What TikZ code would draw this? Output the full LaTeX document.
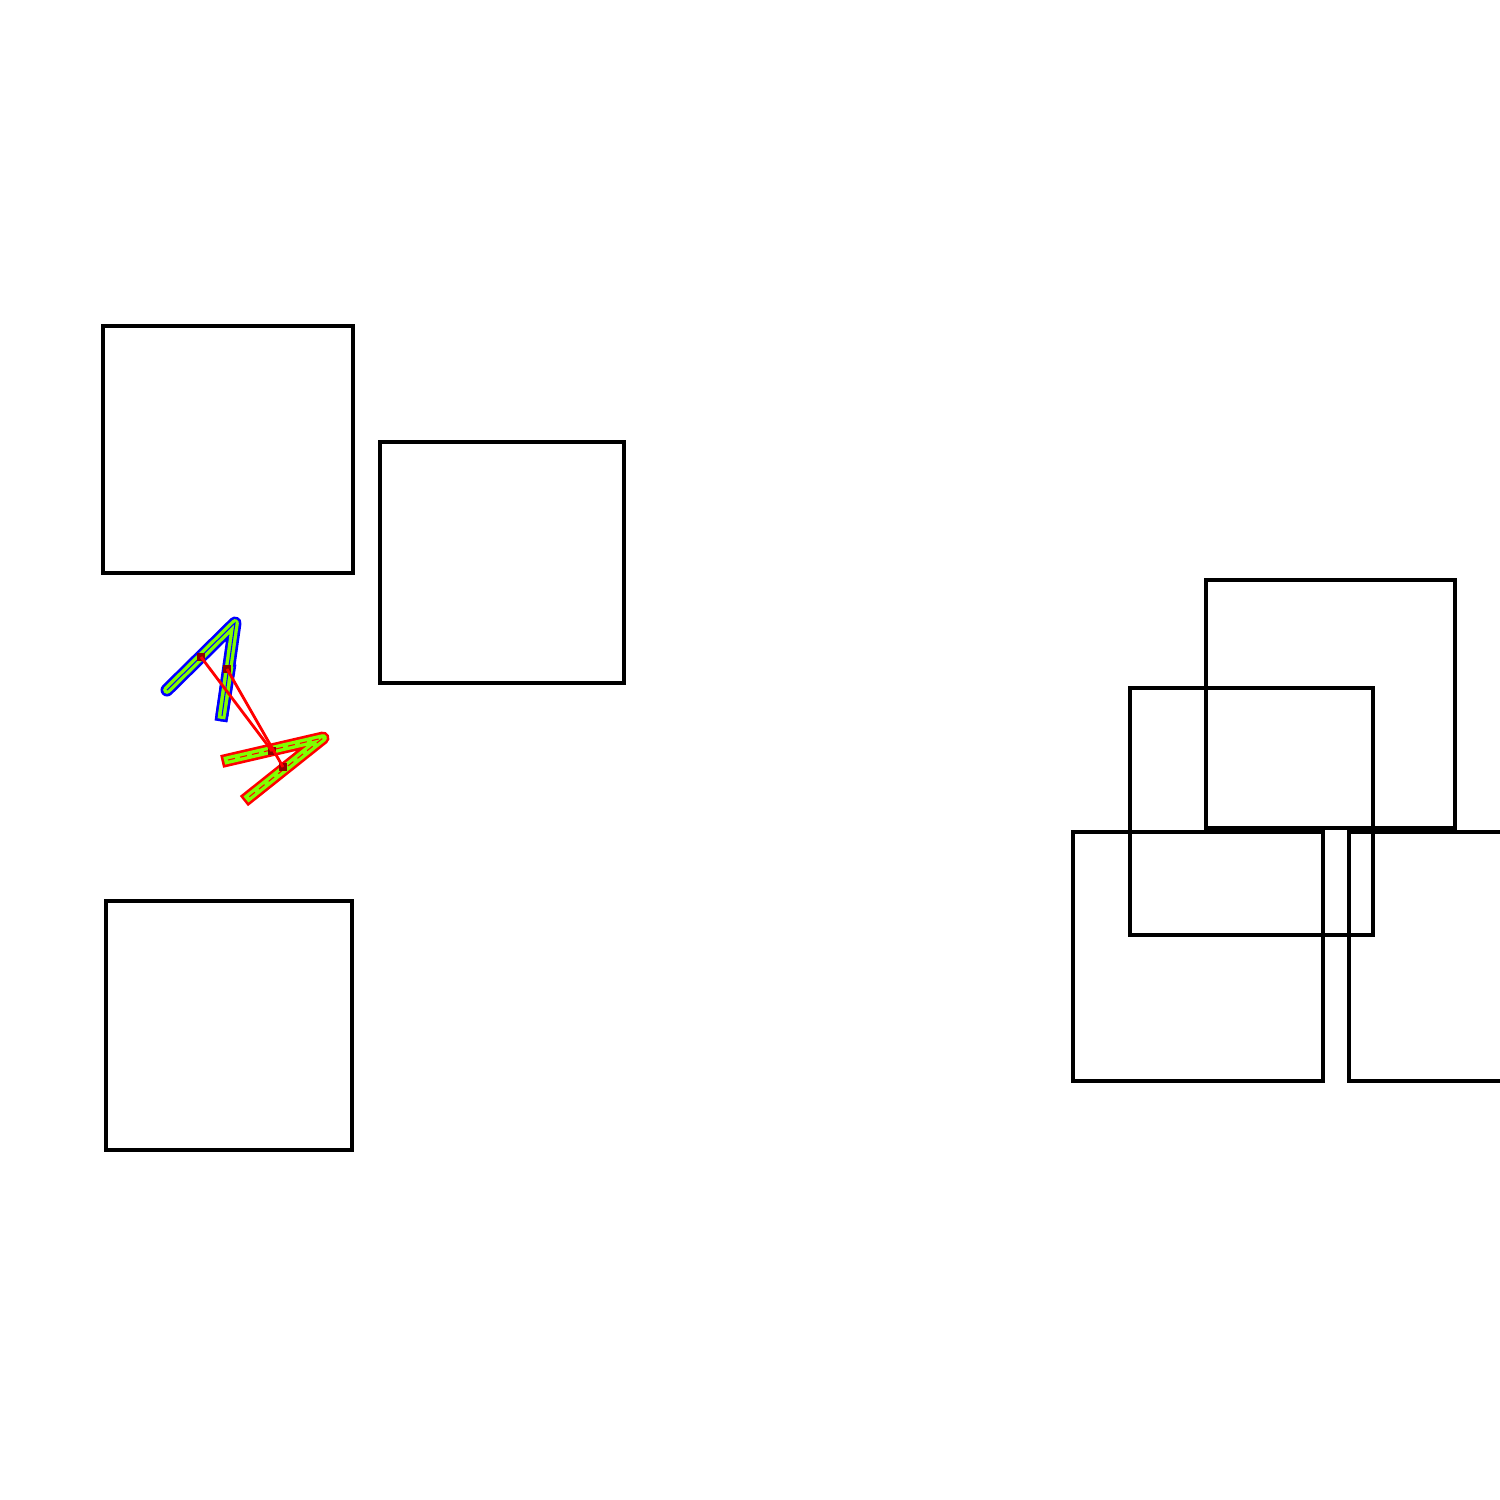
\documentclass[tikz,border=0pt]{standalone}
\begin{document}
\begin{tikzpicture}[x=0.01cm,y=-0.01cm,
  box/.style={draw=black,line width=1.15pt},
  bluearm/.style={draw=blue,line width=3.7pt,line join=round},
  redarm/.style={draw=red,line width=3.7pt,line join=round},
  greenarm/.style={draw=green!50!yellow,line width=2.2pt,line join=round},
  link/.style={draw=red,line width=0.8pt},
  dot/.style={fill=red!55!black,inner sep=0pt,minimum size=2pt}]
\useasboundingbox (0,0) rectangle (1500,1500);
\draw[box] (103,326) rectangle (353,573);
\draw[box] (380,442) rectangle (624,683);
\draw[box] (106,901) rectangle (352,1150);
\draw[box] (1206,580) rectangle (1455,828);
\draw[box] (1130,688) rectangle (1373,935);
\draw[box] (1073,832) rectangle (1323,1081);
\draw[box] (1500,832) -- (1349,832) -- (1349,1081) -- (1500,1081);
% blue arm
\draw[bluearm,line cap=round] (167,690) -- (235,623) -- (222,715);
\draw[bluearm,line cap=rect] (229,670) -- (222,715);
\draw[greenarm,line cap=round] (167,690) -- (235,623) -- (222,715);
\draw[greenarm,line cap=rect] (229,670) -- (222,715);
\draw[blue,line width=0.3pt] (167,690) -- (235,623) -- (222,716);
% red arm
\draw[redarm,line cap=rect] (228,760) -- (323,738) -- (249,797);
\draw[greenarm,line cap=rect] (228,760) -- (323,738) -- (249,797);
\draw[red,line width=0.3pt,dash pattern=on 2pt off 1.5pt] (228,760) -- (323,738) -- (249,797);
% links
\node[dot] (a1) at (201,657) {};
\node[dot] (a2) at (227,669) {};
\node[dot] (b1) at (272,751) {};
\node[dot] (b2) at (283,767) {};
\draw[link] (a1.center) -- (b1.center);
\draw[link] (a2.center) -- (b2.center);
\end{tikzpicture}
\end{document}
